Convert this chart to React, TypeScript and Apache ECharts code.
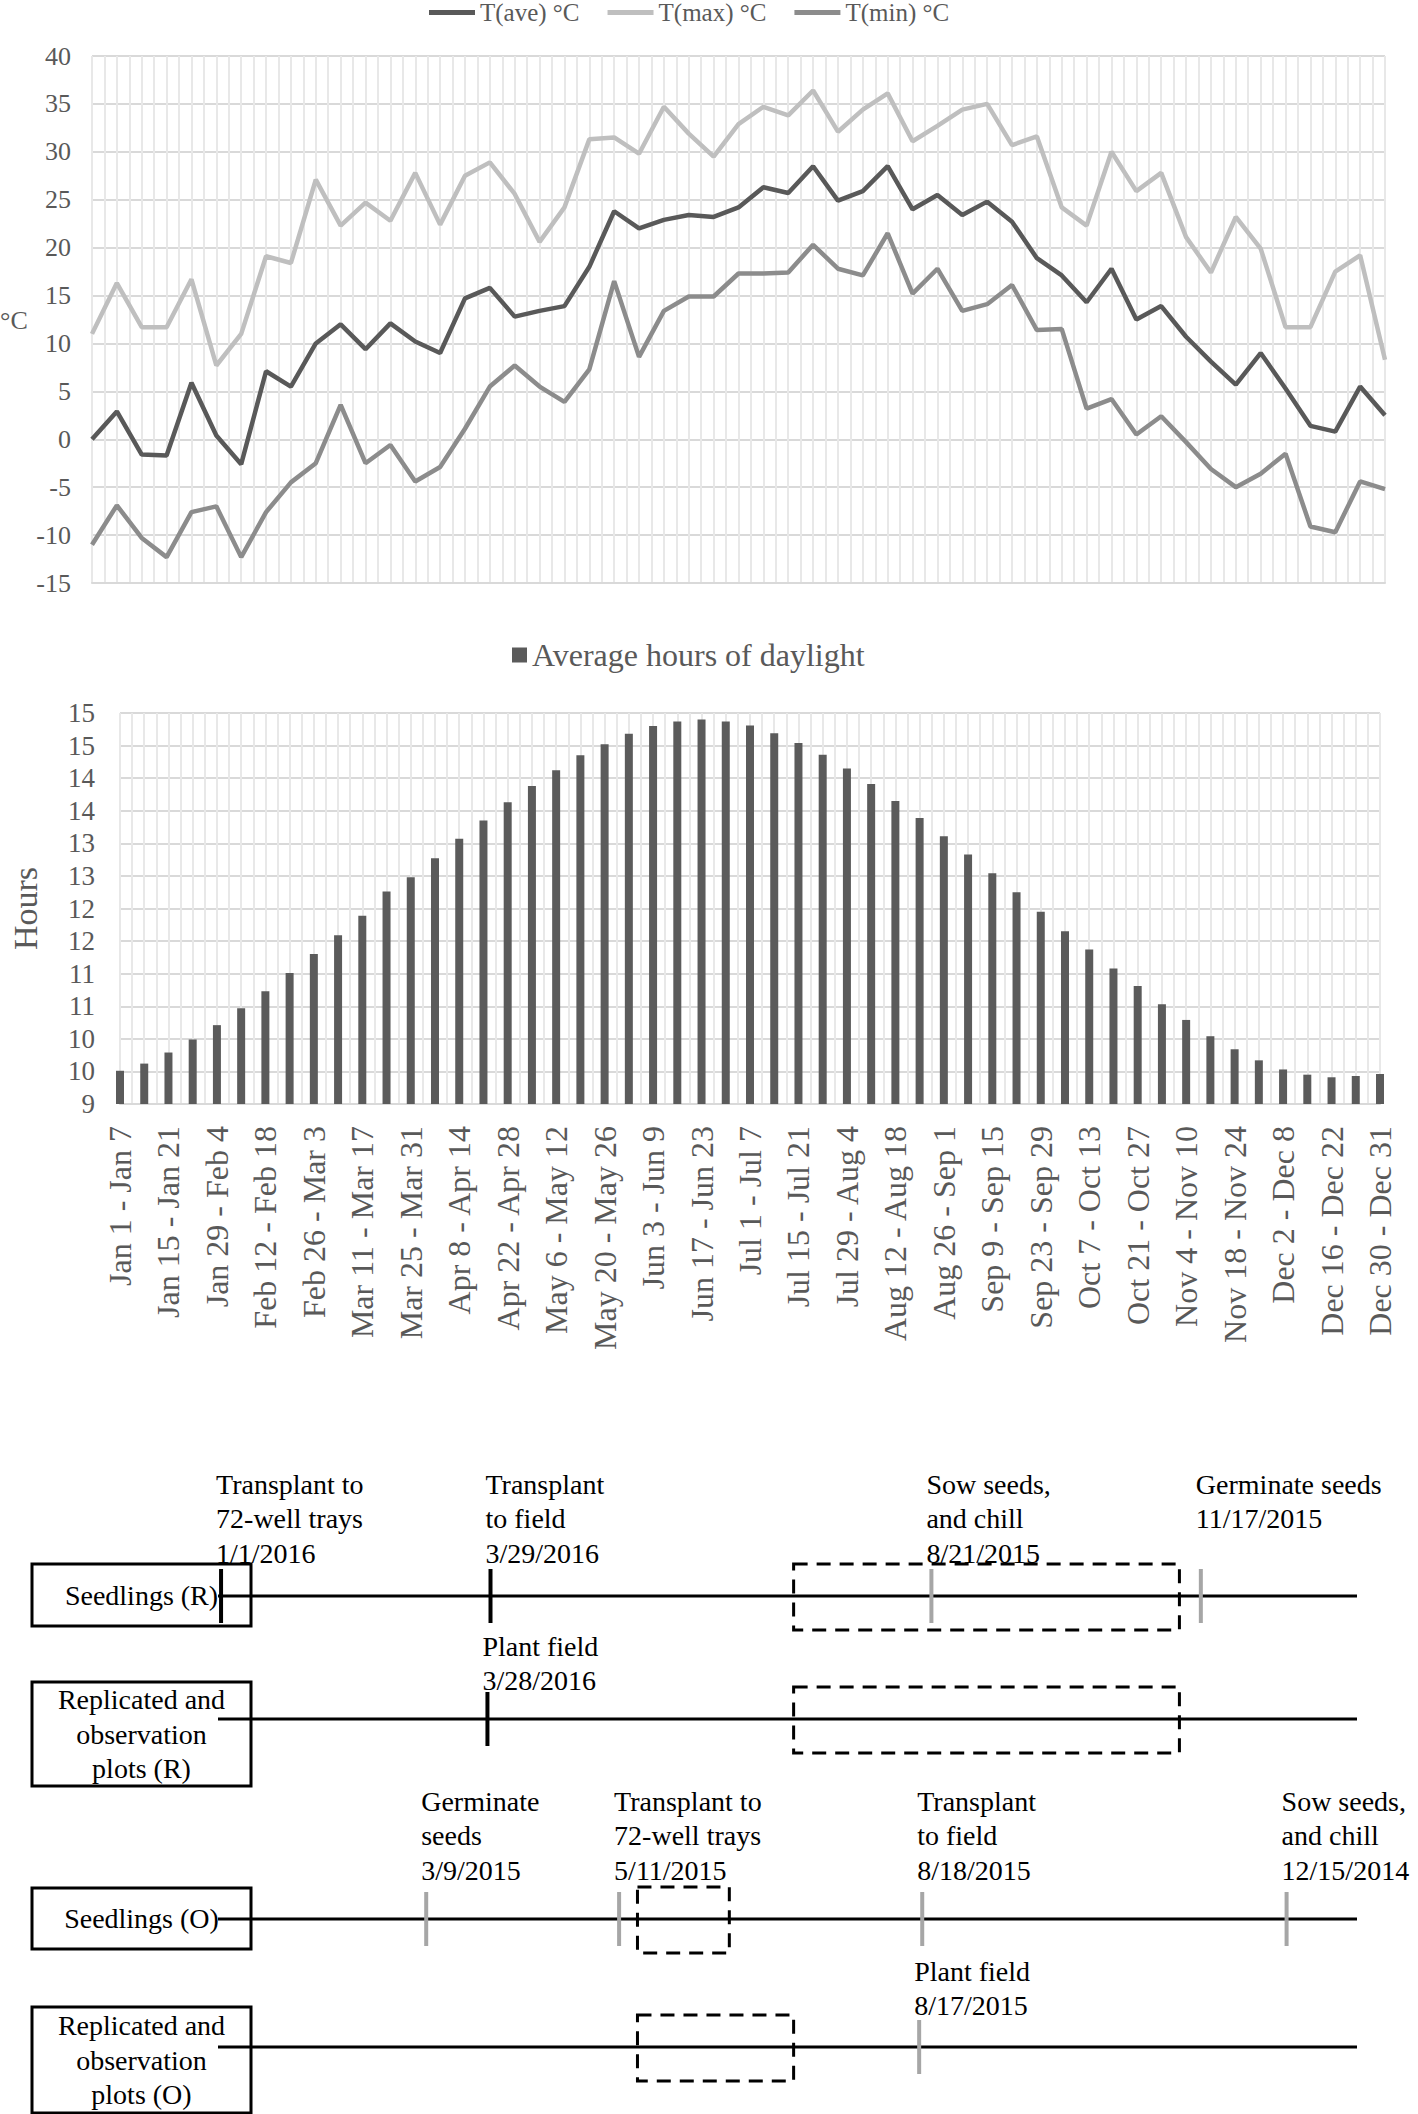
import React, { useEffect, useRef } from "react";
import * as echarts from "echarts";

const FONT = '"Liberation Serif", "Times New Roman", serif';

// ---------------- Data ----------------
const weekLabels = [
  "Jan 1 - Jan 7", "Jan 8 - Jan 14", "Jan 15 - Jan 21", "Jan 22 - Jan 28", "Jan 29 - Feb 4",
  "Feb 5 - Feb 11", "Feb 12 - Feb 18", "Feb 19 - Feb 25", "Feb 26 - Mar 3", "Mar 4 - Mar 10",
  "Mar 11 - Mar 17", "Mar 18 - Mar 24", "Mar 25 - Mar 31", "Apr 1 - Apr 7", "Apr 8 - Apr 14",
  "Apr 15 - Apr 21", "Apr 22 - Apr 28", "Apr 29 - May 5", "May 6 - May 12", "May 13 - May 19",
  "May 20 - May 26", "May 27 - Jun 2", "Jun 3 - Jun 9", "Jun 10 - Jun 16", "Jun 17 - Jun 23",
  "Jun 24 - Jun 30", "Jul 1 - Jul 7", "Jul 8 - Jul 14", "Jul 15 - Jul 21", "Jul 22 - Jul 28",
  "Jul 29 - Aug 4", "Aug 5 - Aug 11", "Aug 12 - Aug 18", "Aug 19 - Aug 25", "Aug 26 - Sep 1",
  "Sep 2 - Sep 8", "Sep 9 - Sep 15", "Sep 16 - Sep 22", "Sep 23 - Sep 29", "Sep 30 - Oct 6",
  "Oct 7 - Oct 13", "Oct 14 - Oct 20", "Oct 21 - Oct 27", "Oct 28 - Nov 3", "Nov 4 - Nov 10",
  "Nov 11 - Nov 17", "Nov 18 - Nov 24", "Nov 25 - Dec 1", "Dec 2 - Dec 8", "Dec 9 - Dec 15",
  "Dec 16 - Dec 22", "Dec 23 - Dec 29", "Dec 30 - Dec 31",
];

const tAve = [
  0, 2.9, -1.6, -1.7, 5.9, 0.4, -2.6, 7.1, 5.5, 10.0,
  12.0, 9.4, 12.1, 10.2, 9.0, 14.7, 15.8, 12.8, 13.4, 13.9,
  18.0, 23.8, 22.0, 22.9, 23.4, 23.2, 24.2, 26.3, 25.7, 28.5,
  24.9, 25.9, 28.5, 24.0, 25.5, 23.4, 24.8, 22.7, 18.9, 17.1,
  14.3, 17.8, 12.5, 13.9, 10.7, 8.1, 5.7, 9.0, 5.3, 1.4,
  0.8, 5.5, 2.5,
];
const tMax = [
  11.0, 16.3, 11.7, 11.7, 16.7, 7.7, 11.0, 19.1, 18.4, 27.1,
  22.3, 24.7, 22.8, 27.8, 22.4, 27.5, 28.9, 25.6, 20.6, 24.2,
  31.3, 31.5, 29.8, 34.7, 31.9, 29.5, 32.9, 34.7, 33.8, 36.4,
  32.1, 34.4, 36.1, 31.1, 32.7, 34.4, 35.0, 30.7, 31.6, 24.2,
  22.3, 30.0, 25.9, 27.8, 21.1, 17.4, 23.2, 19.9, 11.7, 11.7,
  17.5, 19.2, 8.3,
];
const tMin = [
  -11.0, -6.9, -10.3, -12.3, -7.6, -7.0, -12.3, -7.6, -4.5, -2.5,
  3.6, -2.5, -0.6, -4.4, -2.9, 1.1, 5.5, 7.7, 5.5, 3.9,
  7.3, 16.5, 8.6, 13.4, 14.9, 14.9, 17.3, 17.3, 17.4, 20.3,
  17.8, 17.1, 21.5, 15.2, 17.8, 13.4, 14.1, 16.1, 11.4, 11.5,
  3.2, 4.2, 0.5, 2.4, -0.3, -3.1, -5.0, -3.6, -1.5, -9.1,
  -9.7, -4.4, -5.2,
];
const tempNames = ["T(ave) °C", "T(max) °C", "T(min) °C"];
const tempAxis = [-15, 40, 5]; // min, max, step
const tempUnit = "°C";

const daylight = [
  9.51, 9.62, 9.79, 9.99, 10.21, 10.47, 10.73, 11.01, 11.30, 11.59,
  11.89, 12.26, 12.48, 12.77, 13.07, 13.35, 13.63, 13.88, 14.12, 14.35,
  14.52, 14.68, 14.80, 14.87, 14.90, 14.87, 14.81, 14.69, 14.54, 14.36,
  14.15, 13.91, 13.65, 13.39, 13.11, 12.83, 12.54, 12.25, 11.95, 11.65,
  11.37, 11.08, 10.81, 10.53, 10.29, 10.04, 9.84, 9.67, 9.53, 9.45,
  9.41, 9.43, 9.46,
];
const daylightName = "Average hours of daylight";
const daylightAxis = [9, 15, 0.5]; // min, max, step
const daylightUnit = "Hours";

// Timeline diagram
const rowNames = [
  "Seedlings (R)",
  "Replicated and\nobservation\nplots (R)",
  "Seedlings (O)",
  "Replicated and\nobservation\nplots (O)",
];
const eventRow = [0, 0, 0, 0, 1, 2, 2, 2, 2, 3];
const eventDate = [
  "1/1/2016", "3/29/2016", "8/21/2015", "11/17/2015", "3/28/2016",
  "3/9/2015", "5/11/2015", "8/18/2015", "12/15/2014", "8/17/2015",
];
const eventText = [
  "Transplant to\n72-well trays", "Transplant\nto field", "Sow seeds,\nand chill", "Germinate seeds", "Plant field",
  "Germinate\nseeds", "Transplant to\n72-well trays", "Transplant\nto field", "Sow seeds,\nand chill", "Plant field",
];
const periodRow = [0, 1, 2, 3];
const periodStartDoy = [188, 188, 137, 137];
const periodEndDoy = [314, 314, 167, 188];
const timelineDoyRange = [0, 372];
const currentSeasonYear = 2016;

// ---------------- Layout / style ----------------
const ROW_BASE = [1596, 1719, 1919, 2047];
const ROW_LABEL_TOP = [-129, -90, -135, -93];
const ROW_BOX = [[-32, 62], [-37, 104], [-31, 61], [-40, 106]];
const BOX_X = 32;
const BOX_W = 219;

const dayOfYear = (d: string) => {
  const [m, dd, y] = d.split("/").map(Number);
  return Math.round((Date.UTC(y, m - 1, dd) - Date.UTC(y, 0, 1)) / 86400000) + 1;
};
const yearOf = (d: string) => Number(d.split("/")[2]);

function buildOption(): any {
  const halfSteps = Array.from({ length: weekLabels.length * 2 - 1 }, (_, i) => String(i));
  const gridLineH = { show: true, lineStyle: { color: "#d9d9d9", width: 2 } };
  const gridLineV = { show: true, interval: 0, lineStyle: { color: "#e8e8e8", width: 2 } };
  const tickText = { color: "#595959", fontFamily: FONT };

  const grids: any[] = [
    { left: 92, top: 56, width: 1293, height: 527 },
    { left: 102, top: 713, width: 1278, height: 391 },
    ...ROW_BASE.map((b) => ({ left: 218, width: 1139, top: b - 30, height: 60 })),
  ];

  const xAxes: any[] = [
    {
      gridIndex: 0, type: "category", data: weekLabels, boundaryGap: false,
      axisLine: { show: true, onZero: false, lineStyle: { color: "#d9d9d9", width: 2 } },
      axisTick: { show: false }, axisLabel: { show: false }, splitLine: { show: false },
    },
    {
      gridIndex: 0, type: "category", data: halfSteps, boundaryGap: false, position: "top",
      axisLine: { show: false }, axisTick: { show: false }, axisLabel: { show: false }, splitLine: gridLineV,
    },
    {
      gridIndex: 1, type: "category", data: weekLabels, boundaryGap: false,
      axisLine: { show: true, onZero: false, lineStyle: { color: "#d9d9d9", width: 2 } },
      axisTick: { show: false },
      axisLabel: { interval: 1, rotate: 90, margin: 22, fontSize: 32, ...tickText },
      splitLine: { show: false },
    },
    {
      gridIndex: 1, type: "category", data: halfSteps, boundaryGap: false, position: "top",
      axisLine: { show: false }, axisTick: { show: false }, axisLabel: { show: false }, splitLine: gridLineV,
    },
    ...ROW_BASE.map((_, r) => ({
      gridIndex: 2 + r, type: "value", min: timelineDoyRange[0], max: timelineDoyRange[1], show: false,
    })),
  ];

  const yAxes: any[] = [
    {
      gridIndex: 0, type: "value", min: tempAxis[0], max: tempAxis[1], interval: tempAxis[2],
      axisLine: { show: false }, axisTick: { show: false },
      axisLabel: { margin: 21, fontSize: 26, ...tickText }, splitLine: gridLineH,
    },
    {
      gridIndex: 1, type: "value", min: daylightAxis[0], max: daylightAxis[1], interval: daylightAxis[2],
      axisLine: { show: false }, axisTick: { show: false },
      axisLabel: { margin: 25, fontSize: 27, ...tickText, formatter: (v: number) => String(Math.round(v)) },
      splitLine: gridLineH,
      name: daylightUnit, nameLocation: "middle", nameRotate: 90, nameGap: 78,
      nameTextStyle: { fontSize: 34, color: "#595959", fontFamily: FONT },
    },
    ...ROW_BASE.map((_, r) => ({ gridIndex: 2 + r, type: "value", min: -1, max: 1, show: false })),
  ];

  const tempColors = ["#595959", "#bfbfbf", "#8c8c8c"];
  const tempData = [tAve, tMax, tMin];
  const tempSeries = tempNames.map((name, k) => ({
    name, type: "line", xAxisIndex: 0, yAxisIndex: 0, data: tempData[k],
    symbol: "none", showSymbol: false, smooth: false,
    lineStyle: { color: tempColors[k], width: 4.5 }, itemStyle: { color: tempColors[k] },
  }));

  const barSeries = {
    name: daylightName, type: "bar", xAxisIndex: 2, yAxisIndex: 1, data: daylight,
    barWidth: 8, itemStyle: { color: "#5b5b5b" },
  };

  const rowSeries = rowNames.map((_, r) => {
    const items: any[] = [];
    periodRow.forEach((pr, i) => {
      if (pr === r) items.push({ kind: "period", a: periodStartDoy[i], b: periodEndDoy[i] });
    });
    items.push({ kind: "base", a: timelineDoyRange[0], b: timelineDoyRange[1] });
    eventRow.forEach((er, i) => {
      if (er === r) {
        const d = dayOfYear(eventDate[i]);
        items.push({ kind: "event", a: d, b: d, i });
      }
    });
    return {
      type: "custom", xAxisIndex: 4 + r, yAxisIndex: 2 + r, silent: true, clip: false,
      encode: { x: [0, 1], y: 2 },
      data: items.map((it) => [it.a, it.b, 0]),
      renderItem: (params: any, api: any) => {
        const it = items[params.dataIndex];
        const p0 = api.coord([api.value(0), api.value(2)]);
        const p1 = api.coord([api.value(1), api.value(2)]);
        if (it.kind === "base") {
          return {
            type: "line",
            shape: { x1: p0[0], y1: p0[1], x2: p1[0], y2: p1[1] },
            style: { stroke: "#000", lineWidth: 3 },
          };
        }
        if (it.kind === "period") {
          return {
            type: "rect",
            shape: { x: p0[0], y: p0[1] - 32, width: p1[0] - p0[0], height: 66 },
            style: { fill: "none", stroke: "#000", lineWidth: 3, lineDash: [14, 9] },
          };
        }
        const i = it.i;
        const color = yearOf(eventDate[i]) === currentSeasonYear ? "#000" : "#a6a6a6";
        return {
          type: "group",
          children: [
            {
              type: "line",
              shape: { x1: p0[0], y1: p0[1] - 27, x2: p0[0], y2: p0[1] + 27 },
              style: { stroke: color, lineWidth: 4 },
            },
            {
              type: "text",
              x: p0[0] - 5,
              y: p0[1] + ROW_LABEL_TOP[r],
              style: {
                text: eventText[i] + "\n" + eventDate[i],
                fill: "#000", fontSize: 28, fontFamily: FONT, lineHeight: 34.5,
                align: "left", verticalAlign: "top", textAlign: "left", textVerticalAlign: "top",
              },
            },
          ],
        };
      },
    };
  });

  const graphics: any[] = [
    {
      type: "text", x: 0, y: 307,
      style: { text: tempUnit, fontSize: 26, fontFamily: FONT, fill: "#595959" },
    },
  ];
  rowNames.forEach((name, r) => {
    const [off, h] = ROW_BOX[r];
    const top = ROW_BASE[r] + off;
    graphics.push({
      type: "rect", shape: { x: BOX_X, y: top, width: BOX_W, height: h },
      style: { fill: "none", stroke: "#000", lineWidth: 3 }, z: 1,
    });
    graphics.push({
      type: "text", x: BOX_X + BOX_W / 2, y: top + h / 2,
      style: {
        text: name, fill: "#000", fontSize: 28, fontFamily: FONT, lineHeight: 34.5,
        align: "center", verticalAlign: "middle", textAlign: "center", textVerticalAlign: "middle",
      },
      z: 1,
    });
  });

  return {
    animation: false,
    backgroundColor: "#ffffff",
    textStyle: { fontFamily: FONT },
    grid: grids,
    xAxis: xAxes,
    yAxis: yAxes,
    legend: [
      {
        data: tempNames, left: 429, top: 0, padding: 0, icon: "rect",
        itemWidth: 46, itemHeight: 5, itemGap: 28,
        textStyle: { fontSize: 25, color: "#595959", fontFamily: FONT, lineHeight: 24 },
      },
      {
        data: [daylightName], left: 512, top: 639, padding: 0, icon: "rect",
        itemWidth: 15, itemHeight: 15,
        textStyle: { fontSize: 32, color: "#595959", fontFamily: FONT, lineHeight: 32 },
      },
    ],
    graphic: graphics,
    series: [...tempSeries, barSeries, ...rowSeries],
  };
}

export default function App() {
  const ref = useRef<HTMLDivElement>(null);
  useEffect(() => {
    const el = ref.current;
    if (!el) return;
    const chart = echarts.init(el, null, { renderer: "svg" });
    chart.setOption(buildOption());
    return () => chart.dispose();
  }, []);
  return (
    <div
      ref={ref}
      style={{ position: "absolute", left: 0, top: 0, width: 1418, height: 2114, background: "#fff" }}
    />
  );
}
